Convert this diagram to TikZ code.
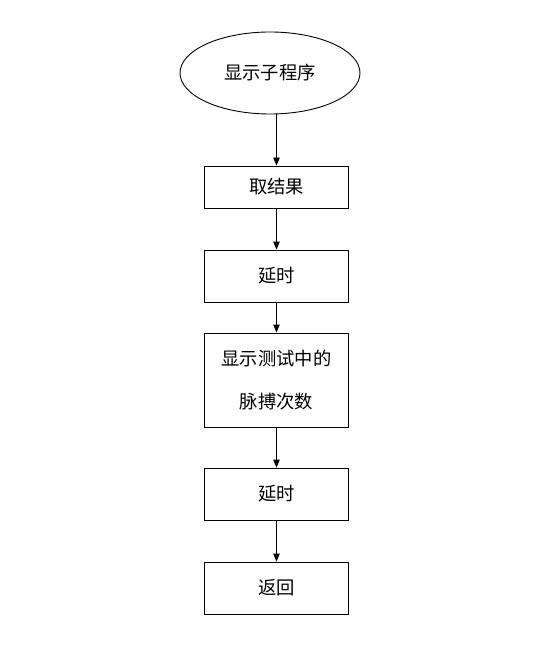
\documentclass[tikz,border=0pt]{standalone}
\usepackage{fontspec}
\setmainfont{Noto Sans CJK SC}
\usetikzlibrary{shapes.geometric,arrows.meta}
\begin{document}
\begin{tikzpicture}[x=1pt,y=-1pt,
  every node/.style={font=\fontsize{18.3pt}{22pt}\selectfont, inner sep=0pt},
  stepbox/.style={draw, line width=0.9pt, minimum width=144pt, align=center},
  arr/.style={line width=0.9pt, -{Triangle[length=8pt,width=6.5pt]}}]
\useasboundingbox (0,0) rectangle (552,655);
\node[draw, ellipse, line width=0.9pt, minimum width=180pt, minimum height=82pt] (ell) at (270,73) {显示子程序};
\node[stepbox, minimum height=42pt] (b1) at (276.5,187) {取结果};
\node[stepbox, minimum height=52pt] (b2) at (276.5,276) {延时};
\node[stepbox, minimum height=94pt, font=\fontsize{18.3pt}{43pt}\selectfont] (b3) at (276.5,380) {显示测试中的\\脉搏次数};
\node[stepbox, minimum height=52pt] (b4) at (276.5,494) {延时};
\node[stepbox, minimum height=52pt] (b5) at (276.5,588) {返回};
\draw[arr] (ell.south -| b1.north) -- (b1.north);
\draw[arr] (b1) -- (b2);
\draw[arr] (b2) -- (b3);
\draw[arr] (b3) -- (b4);
\draw[arr] (b4) -- (b5);
\end{tikzpicture}
\end{document}
